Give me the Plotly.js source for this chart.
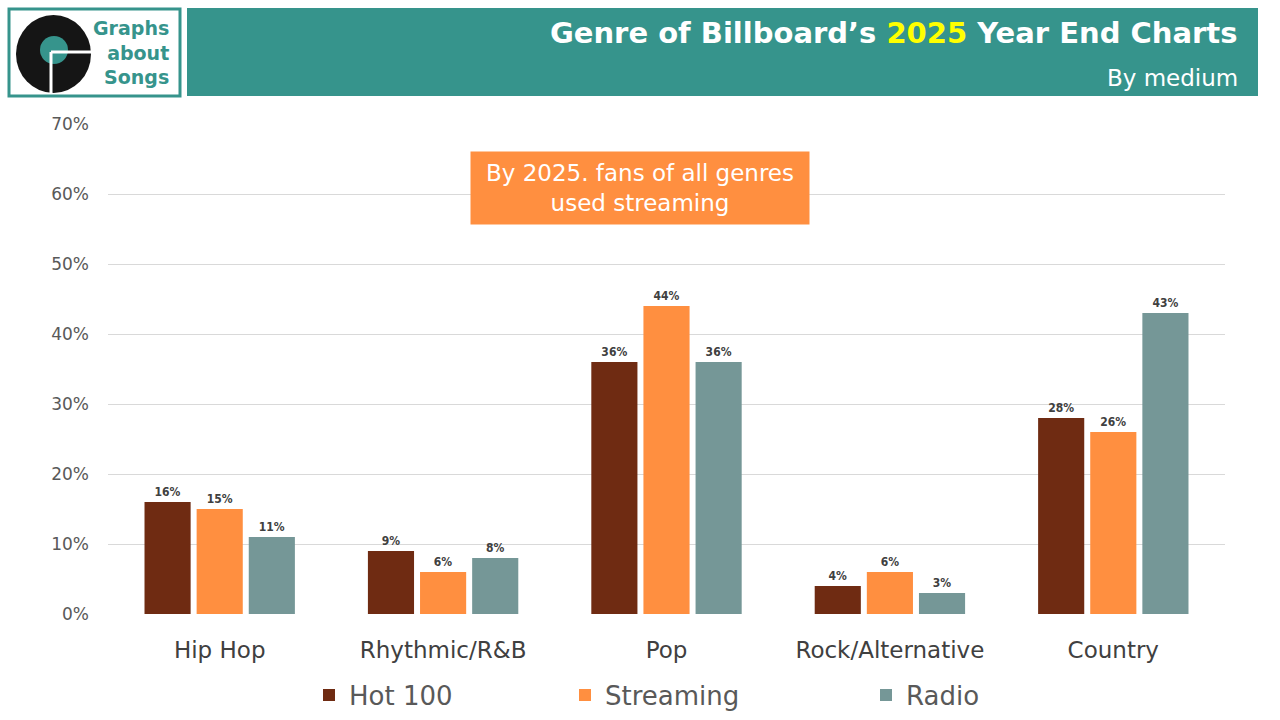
<!DOCTYPE html>
<html>
<head>
<meta charset="utf-8">
<script src="https://cdn.plot.ly/plotly-3.0.1.min.js"></script>
<style>
  html, body { margin: 0; padding: 0; background: #fff; }
  #chart { width: 1280px; height: 720px; }
</style>
</head>
<body>
<div id="chart"></div>
<script>
const genres = ['Hip Hop', 'Rhythmic/R&B', 'Pop', 'Rock/Alternative', 'Country'];
const hot100 = [0.16, 0.09, 0.36, 0.04, 0.28];
const streaming = [0.15, 0.06, 0.44, 0.06, 0.26];
const radio = [0.11, 0.08, 0.36, 0.03, 0.43];

const TEAL = '#36948C';
const FONT = '"DejaVu Sans", Roboto, sans-serif';
const LABEL_FONT = '"DejaVu Sans Condensed", "Liberation Sans Narrow", sans-serif';

// plot area in pixels: x 108..1225, y 124..614
function px(x) { return (x - 108) / 1117; }
function py(y) { return (614 - y) / 490; }

function series(name, values, color, legend) {
  return {
    type: 'bar',
    name: name,
    legend: legend,
    x: genres,
    y: values,
    marker: { color: color },
    text: values.map(v => Math.round(v * 100) + '%'),
    textposition: 'outside',
    cliponaxis: false,
    textfont: { family: LABEL_FONT, size: 12, color: '#404040', weight: 'bold' },
    hoverinfo: 'x+y'
  };
}

const data = [
  series('Hot 100', hot100, '#6F2B12', 'legend'),
  series('Streaming', streaming, '#FF8F40', 'legend2'),
  series('Radio', radio, '#759797', 'legend3')
];

const shapes = [
  // logo box
  { type: 'rect', xref: 'paper', yref: 'paper', x0: px(9), x1: px(180), y0: py(96), y1: py(9),
    line: { color: TEAL, width: 3 }, fillcolor: 'white', layer: 'above' },
  // record
  { type: 'circle', xref: 'paper', yref: 'paper', x0: px(16), x1: px(91), y0: py(93), y1: py(15),
    line: { width: 0 }, fillcolor: '#151515', layer: 'above' },
  { type: 'circle', xref: 'paper', yref: 'paper', x0: px(40), x1: px(68), y0: py(64), y1: py(36),
    line: { width: 0 }, fillcolor: TEAL, layer: 'above' },
  { type: 'line', xref: 'paper', yref: 'paper', x0: px(51), x1: px(51), y0: py(94), y1: py(52),
    line: { color: 'white', width: 3 }, layer: 'above' },
  { type: 'line', xref: 'paper', yref: 'paper', x0: px(51), x1: px(94), y0: py(52), y1: py(52),
    line: { color: 'white', width: 3 }, layer: 'above' },
  // title bar
  { type: 'rect', xref: 'paper', yref: 'paper', x0: px(187), x1: px(1258), y0: py(96), y1: py(8),
    line: { width: 0 }, fillcolor: TEAL, layer: 'above' }
];

const annotations = [
  { xref: 'paper', yref: 'paper', x: px(171), y: py(52), xanchor: 'right', yanchor: 'middle',
    text: 'Graphs<br>about<br>Songs', showarrow: false, align: 'right',
    font: { family: FONT, size: 19, color: TEAL, weight: 'bold' } },
  { xref: 'paper', yref: 'paper', x: px(1239), y: py(33), xanchor: 'right', yanchor: 'middle',
    text: 'Genre of Billboard’s <span style="color:#FFFF00">2025</span> Year End Charts',
    showarrow: false, font: { family: FONT, size: 29, color: 'white', weight: 'bold' } },
  { xref: 'paper', yref: 'paper', x: px(1240), y: py(78), xanchor: 'right', yanchor: 'middle',
    text: 'By medium', showarrow: false, font: { family: FONT, size: 23, color: 'white' } },
  { xref: 'paper', yref: 'paper', x: px(640), y: py(188), xanchor: 'center', yanchor: 'middle',
    text: 'By 2025. fans of all genres<br>used streaming', showarrow: false, align: 'center',
    bgcolor: '#FF8F40', borderpad: 8, width: 322,
    font: { family: FONT, size: 23, color: 'white' } }
];

function legendAt(x) {
  return {
    orientation: 'h',
    x: px(x),
    xanchor: 'left',
    y: py(695),
    yanchor: 'middle',
    bgcolor: 'rgba(0,0,0,0)',
    font: { family: FONT, size: 26, color: '#595959' },
    itemwidth: 30
  };
}

const layout = {
  width: 1280,
  height: 720,
  margin: { l: 108, r: 55, t: 124, b: 106, autoexpand: false },
  paper_bgcolor: 'white',
  plot_bgcolor: 'white',
  barmode: 'group',
  bargap: 0.30,
  bargroupgap: 0.115,
  font: { family: FONT, color: '#595959' },
  xaxis: {
    showline: false,
    ticks: '',
    ticklabelstandoff: 20,
    tickfont: { family: FONT, size: 23, color: '#404040' }
  },
  yaxis: {
    range: [0, 0.7],
    dtick: 0.1,
    tickformat: '.0%',
    gridcolor: '#D9D9D9',
    gridwidth: 1,
    zeroline: false,
    showline: false,
    ticks: '',
    ticklabelstandoff: 18,
    tickfont: { family: FONT, size: 17, color: '#595959' }
  },
  showlegend: true,
  legend: legendAt(309),
  legend2: legendAt(565),
  legend3: legendAt(866),
  shapes: shapes,
  annotations: annotations
};

Plotly.newPlot('chart', data, layout, { displayModeBar: false, staticPlot: true });
</script>
</body>
</html>
